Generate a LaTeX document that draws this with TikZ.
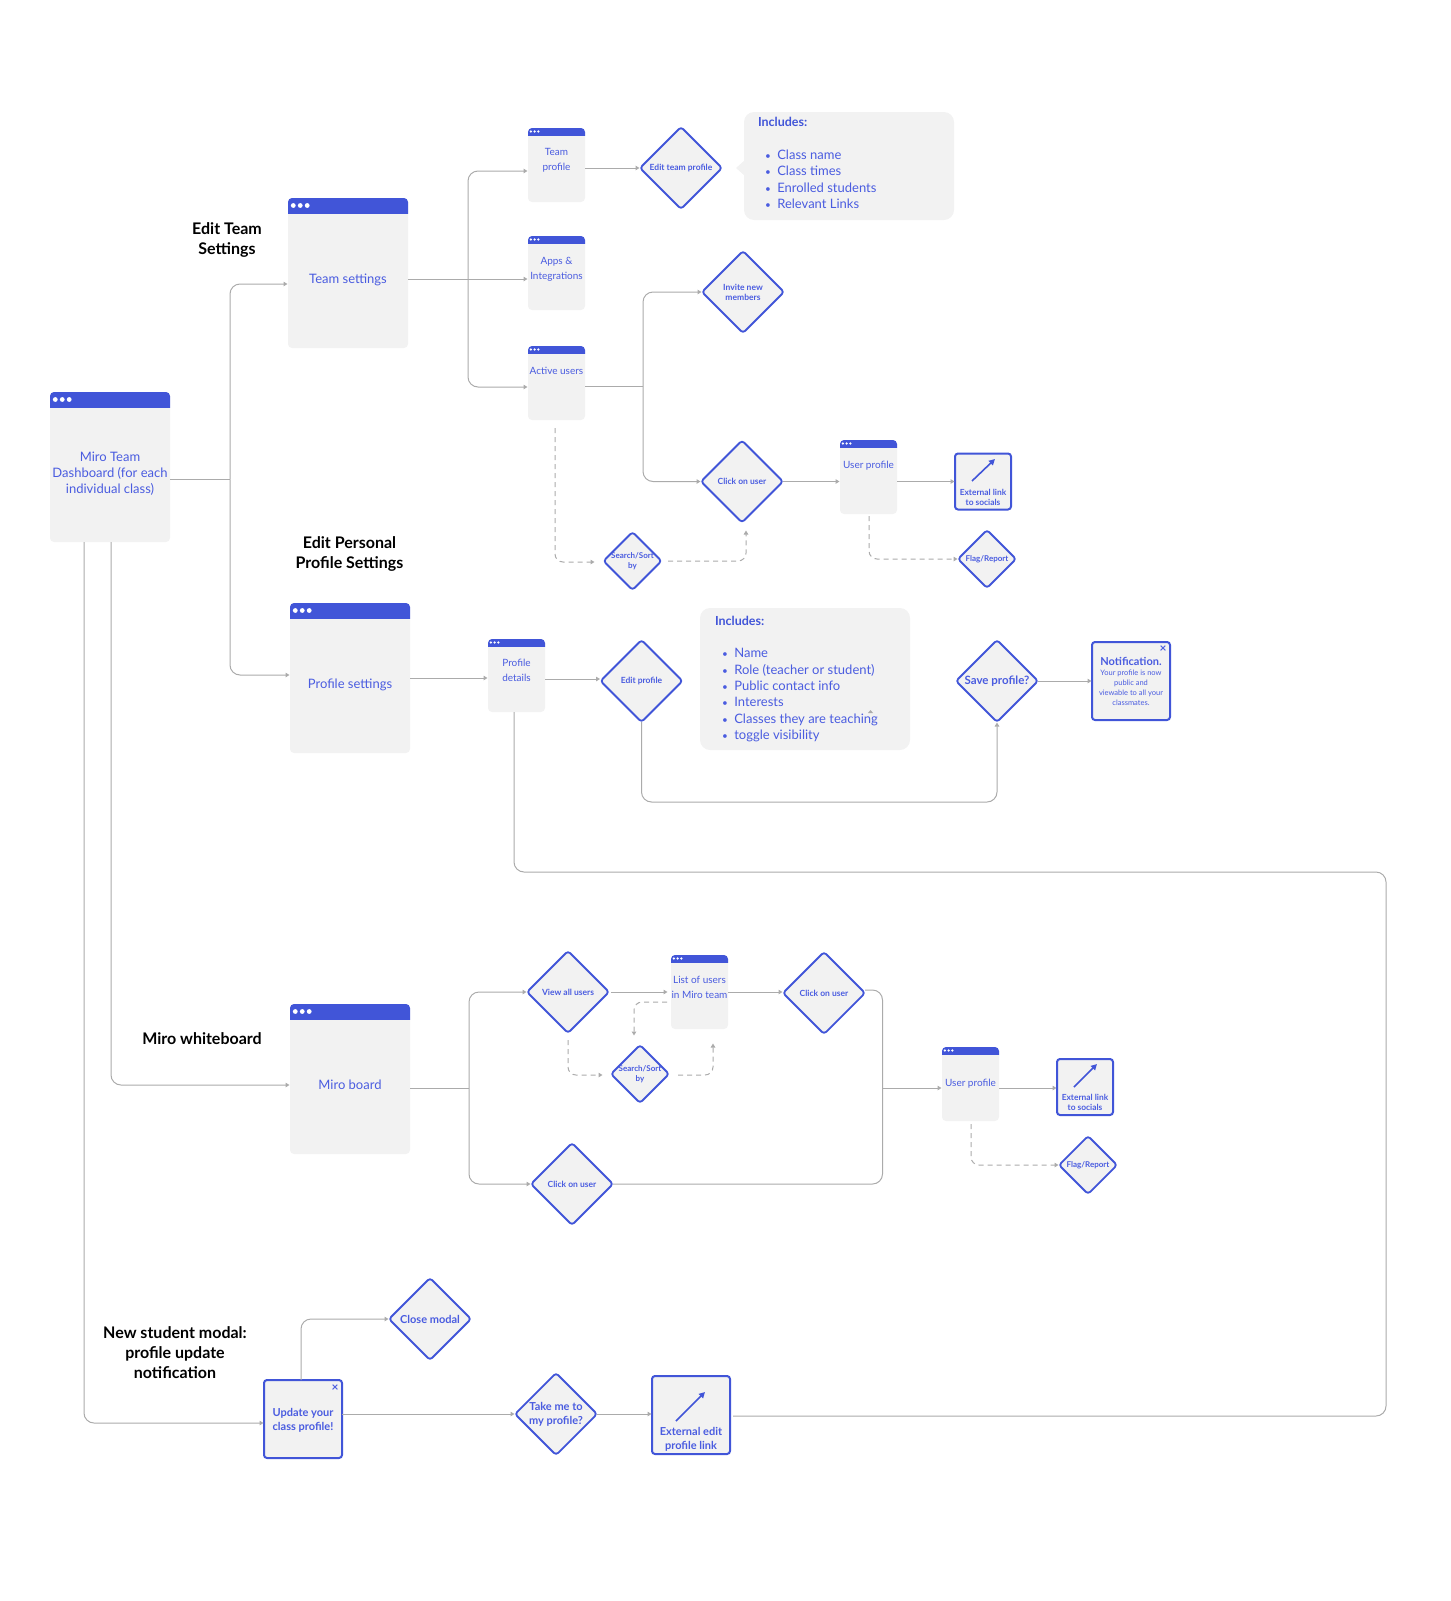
\documentclass[tikz,border=0pt]{standalone}
\usepackage{fontspec}
\setmainfont{Lato}
\usetikzlibrary{shapes.geometric,arrows.meta,calc}
\definecolor{mblue}{HTML}{4155D8}
\definecolor{mtext}{HTML}{4A5CE0}
\definecolor{mgray}{HTML}{F2F2F2}
\definecolor{mline}{HTML}{ABABAB}
\newcommand{\fz}[2]{\fontsize{#1}{#2}\selectfont}
\tikzset{
  winbody/.style={fill=mgray,rounded corners=4,inner sep=0,outer sep=0},
  txt/.style={text=mtext,align=center,inner sep=0,outer sep=0},
  head/.style={text=black,align=center,inner sep=0,font=\fz{16}{20}\bfseries},
  dia/.style={diamond,aspect=1,draw=mblue,fill=mgray,line width=1.8,rounded corners=3,inner sep=0,outer sep=0},
  diabig/.style={dia,minimum size=82},
  diasmall/.style={dia,minimum size=58},
  modal/.style={draw=mblue,fill=mgray,line width=2,rounded corners=3,inner sep=0,outer sep=0},
  bubble/.style={fill=mgray,rounded corners=10,inner sep=0,outer sep=0},
  conn/.style={draw=mline,line width=1},
  arr/.style={conn,-{Triangle[length=4,width=4.5]},shorten >=0.5},
  dsh/.style={arr,dash pattern=on 5 off 4},
  ico/.style={draw=mblue,line width=1.6,-{Triangle[length=6,width=6]}},
}
% name x1 y1 x2 y2 headerheight dotradius text-y text
\newcommand{\win}[9]{%
  \pgfmathsetmacro\wcx{(#2+#4)/2}\pgfmathsetmacro\wcy{(#3+#5)/2}%
  \pgfmathsetmacro\ww{#4-#2}\pgfmathsetmacro\wh{#5-#3}%
  \node[winbody,minimum width=\ww pt,minimum height=\wh pt] (#1) at (\wcx,\wcy) {};
  \begin{scope}
    \clip (#2,#3) rectangle (#4,#3+#6);
    \fill[mblue,rounded corners=4] (#2,#3) rectangle (#4,#5);
  \end{scope}
  \pgfmathsetmacro\dy{#3+#6/2}\pgfmathsetmacro\dr{#7}\pgfmathsetmacro\ds{#7*2.9}%
  \foreach \k in {0,1,2}{\fill[white] ($(#2,\dy)+(\dr*2.2+\k*\ds,0)$) circle (\dr);}
  \node[txt] (#1t) at (\wcx,#8) {#9};
}
% name style x y font text
\newcommand{\dianode}[6]{%
  \node[#2] (#1) at (#3,#4) {};
  \node[txt,font=#5] (#1t) at (#3,#4) {#6};
}
\begin{document}
\begin{tikzpicture}[x=1pt,y=-1pt]
\useasboundingbox (0,0) rectangle (1451,1601);
% windows
\tikzset{txt/.append style={font=\fz{13}{16}}}
\win{dash}{50}{392}{170}{542}{15}{2.4}{473.5}{Miro Team\\Dashboard (for each\\individual class)}
\win{team}{288}{198}{408}{348}{15}{2.4}{280}{Team settings}
\win{prof}{290}{603}{410}{753}{15}{2.4}{685}{Profile settings}
\win{board}{290}{1004}{410}{1154}{15}{2.4}{1085}{Miro board}
\tikzset{txt/.append style={font=\fz{10}{15}}}
\win{tprof}{528}{128}{585}{202}{7}{1.3}{160}{Team\\profile}
\win{apps}{528}{236}{585}{310}{7}{1.3}{269.5}{Apps \&\\Integrations}
\win{active}{528}{346}{585}{420}{7}{1.3}{371}{Active users}
\win{uprof}{840}{440}{897}{514}{7}{1.3}{466}{User profile}
\win{details}{488}{639}{545}{712}{7}{1.3}{670}{Profile\\details}
\win{list}{671}{955}{728}{1029}{7}{1.3}{987}{List of users\\in Miro team}
\win{uprofb}{942}{1047}{999}{1121}{7}{1.3}{1084}{User profile}
% diamonds
\dianode{editteam}{diabig}{681}{168}{\fz{8.5}{10}\bfseries}{Edit team profile}
\dianode{invite}{diabig}{743}{292}{\fz{8.5}{10}\bfseries}{Invite new\\members}
\dianode{click}{diabig}{742}{481.5}{\fz{8.5}{10}\bfseries}{Click on user}
\dianode{searcha}{diasmall}{632.5}{561}{\fz{8}{10}\bfseries}{Search/Sort\\by}
\dianode{flaga}{diasmall}{987}{559}{\fz{8}{10}\bfseries}{Flag/Report}
\dianode{editprof}{diabig}{641.5}{681}{\fz{8.5}{10}\bfseries}{Edit profile}
\dianode{save}{diabig}{997}{681}{\fz{11.5}{13}\bfseries}{Save profile?}
\dianode{viewall}{diabig}{568}{992}{\fz{8.5}{10}\bfseries}{View all users}
\dianode{clickb}{diabig}{824}{993}{\fz{8.5}{10}\bfseries}{Click on user}
\dianode{searchb}{diasmall}{640}{1074}{\fz{8}{10}\bfseries}{Search/Sort\\by}
\dianode{clickc}{diabig}{572}{1184}{\fz{8.5}{10}\bfseries}{Click on user}
\dianode{flagb}{diasmall}{1088}{1165}{\fz{8}{10}\bfseries}{Flag/Report}
\dianode{close}{diabig}{430}{1319}{\fz{11}{13}\bfseries}{Close modal}
\dianode{take}{diabig}{556}{1414}{\fz{11}{14}\bfseries}{Take me to\\my profile?}
% modal boxes
\node[modal,minimum width=56,minimum height=56] (extlinka) at (983,481.5) {};
\draw[ico] (972,481) -- (995,459);
\node[txt,font=\fz{8.4}{10}\bfseries] (extlinkat) at (983,497) {External link\\to socials};
\node[modal,minimum width=56,minimum height=56] (extlinkb) at (1085,1087) {};
\draw[ico] (1074,1087) -- (1097,1064);
\node[txt,font=\fz{8.4}{10}\bfseries] (extlinkbt) at (1085,1102) {External link\\to socials};
\node[modal,minimum width=78,minimum height=78] (notif) at (1131,681) {};
\node[txt,font=\fz{12}{9}\bfseries] (notifx) at (1163,649) {×};
\node[txt,font=\fz{11}{12}\bfseries] (notift) at (1131,661) {Notification.};
\node[txt,font=\fz{7.5}{10}] (notifb) at (1131,688) {Your profile is now\\public and\\viewable to all your\\classmates.};
\node[modal,minimum width=78,minimum height=78] (update) at (303,1419) {};
\node[txt,font=\fz{12}{9}\bfseries] (updatex) at (335,1388) {×};
\node[txt,font=\fz{11}{14}\bfseries] (updatet) at (303,1420) {Update your\\class profile!};
\node[modal,minimum width=78,minimum height=78] (extedit) at (691,1415) {};
\draw[ico] (676,1421) -- (705,1392);
\node[txt,font=\fz{11}{14}\bfseries] (extedtt) at (691,1439) {External edit\\profile link};
% bubbles
\node[bubble,minimum width=210,minimum height=108] (buba) at (849,166) {};
\fill[mgray] (745,160) -- (736,168) -- (745,176) -- cycle;
\node[txt,font=\fz{12.5}{15}\bfseries,anchor=west,text=mblue] (bubah) at (758,122) {Includes:};
\node[txt,font=\fz{13}{16.3},anchor=north west,align=left] (bubal) at (765,150) {{\fz{10}{16.3}•}\hspace{6.5pt}Class name\\{\fz{10}{16.3}•}\hspace{6.5pt}Class times\\{\fz{10}{16.3}•}\hspace{6.5pt}Enrolled students\\{\fz{10}{16.3}•}\hspace{6.5pt}Relevant Links};
\node[bubble,minimum width=210,minimum height=142] (bubb) at (805,679) {};
\node[txt,font=\fz{12.5}{15}\bfseries,anchor=west,text=mblue] (bubbh) at (715,621) {Includes:};
\node[txt,font=\fz{13}{16.3},anchor=north west,align=left] (bubbl) at (722,648.5) {{\fz{10}{16.3}•}\hspace{6.5pt}Name\\{\fz{10}{16.3}•}\hspace{6.5pt}Role (teacher or student)\\{\fz{10}{16.3}•}\hspace{6.5pt}Public contact info\\{\fz{10}{16.3}•}\hspace{6.5pt}Interests\\{\fz{10}{16.3}•}\hspace{6.5pt}Classes they are teaching\\{\fz{10}{16.3}•}\hspace{6.5pt}toggle visibility};
% headings
\node[head] (ha) at (227,240) {Edit Team\\Settings};
\node[head] (hb) at (349.5,554) {Edit Personal\\Profile Settings};
\node[head] (hc) at (202,1039) {Miro whiteboard};
\node[head] (hd) at (175,1353) {New student modal:\\profile update\\notification};
% stray arrowhead
\fill[mline] (868,713) -- (870.5,710) -- (873,713) -- cycle;
% connectors: top
\coordinate (busa) at (230,479.5);
\draw[conn] (dash.east |- busa) -- (busa);
\draw[arr,rounded corners=10] (busa) |- (team.west |- 0,284);
\draw[arr,rounded corners=10] (busa) |- (prof.west |- 0,675);
\coordinate (busb) at (468,279);
\draw[arr] (team.east |- busb) -- (apps.west |- busb);
\draw[arr,rounded corners=10] (busb) |- (tprof.west |- 0,171);
\draw[arr,rounded corners=10] (busb) |- (active.west |- 0,387);
\draw[arr] (tprof.east |- editteam) -- (editteam.west);
\coordinate (busc) at (643,386);
\draw[conn] (active.east |- busc) -- (busc);
\draw[arr,rounded corners=10] (busc) |- (invite.west);
\draw[arr,rounded corners=10] (busc) |- (click.west);
\draw[arr] (click.east) -- (uprof.west |- click);
\draw[arr] (uprof.east |- click) -- (extlinka.west |- click);
\draw[dsh,rounded corners=8] (555,428) |- (595,562);
\draw[dsh,rounded corners=8] (668,561) -| (746,530);
\draw[dsh,rounded corners=8] (869,516) |- (flaga.west);
% profile row
\draw[arr] (prof.east |- 0,678) -- (details.west |- 0,678);
\draw[arr] (details.east |- 0,679) -- (editprof.west |- 0,679);
\draw[arr,rounded corners=10] (editprof.south) -- ++(0,80) -| (save.south);
\draw[arr] (save.east) -- (notif.west |- save);
\coordinate (longa) at (1386,872);
\coordinate (longb) at (733,1416);
\draw[conn,rounded corners=10] (514,712) |- (longa) |- (longb);
% board
\coordinate (busd) at (469,1088);
\draw[conn] (board.east |- busd) -- (busd);
\draw[arr,rounded corners=10] (busd) |- (viewall.west);
\draw[arr,rounded corners=10] (busd) |- (clickc.west);
\draw[arr] (viewall.east) ++(2,0) -- ($(list.west |- viewall)+(-3,0)$);
\draw[arr] (list.east |- viewall) -- (clickb.west |- viewall);
\coordinate (buse) at (882.5,1088);
\draw[conn,rounded corners=10] (clickb.east |- 0,990) -| (buse);
\draw[conn,rounded corners=10] (buse) |- (clickc.east);
\draw[arr] (buse) -- (uprofb.west |- buse);
\draw[arr] (uprofb.east |- buse) -- (extlinkb.west |- buse);
\draw[dsh,rounded corners=8] (971,1124) |- (flagb.west);
\draw[dsh,rounded corners=8] (568,1040) |- (603,1075);
\draw[dsh,rounded corners=8] (678,1075) -| (713,1043);
\draw[dsh,rounded corners=8] (667,1002) -| (634,1036);
% dashboard down
\draw[arr,rounded corners=10] (84,542) |- (update.west |- 0,1423);
\draw[arr,rounded corners=10] (111,542) |- (board.west |- 0,1085);
\draw[arr,rounded corners=10] (update.north -| 301,0) |- (close.west);
\draw[arr] (update.east |- take) -- (take.west);
\draw[arr] (take.east) -- (extedit.west |- take);
\end{tikzpicture}
\end{document}
